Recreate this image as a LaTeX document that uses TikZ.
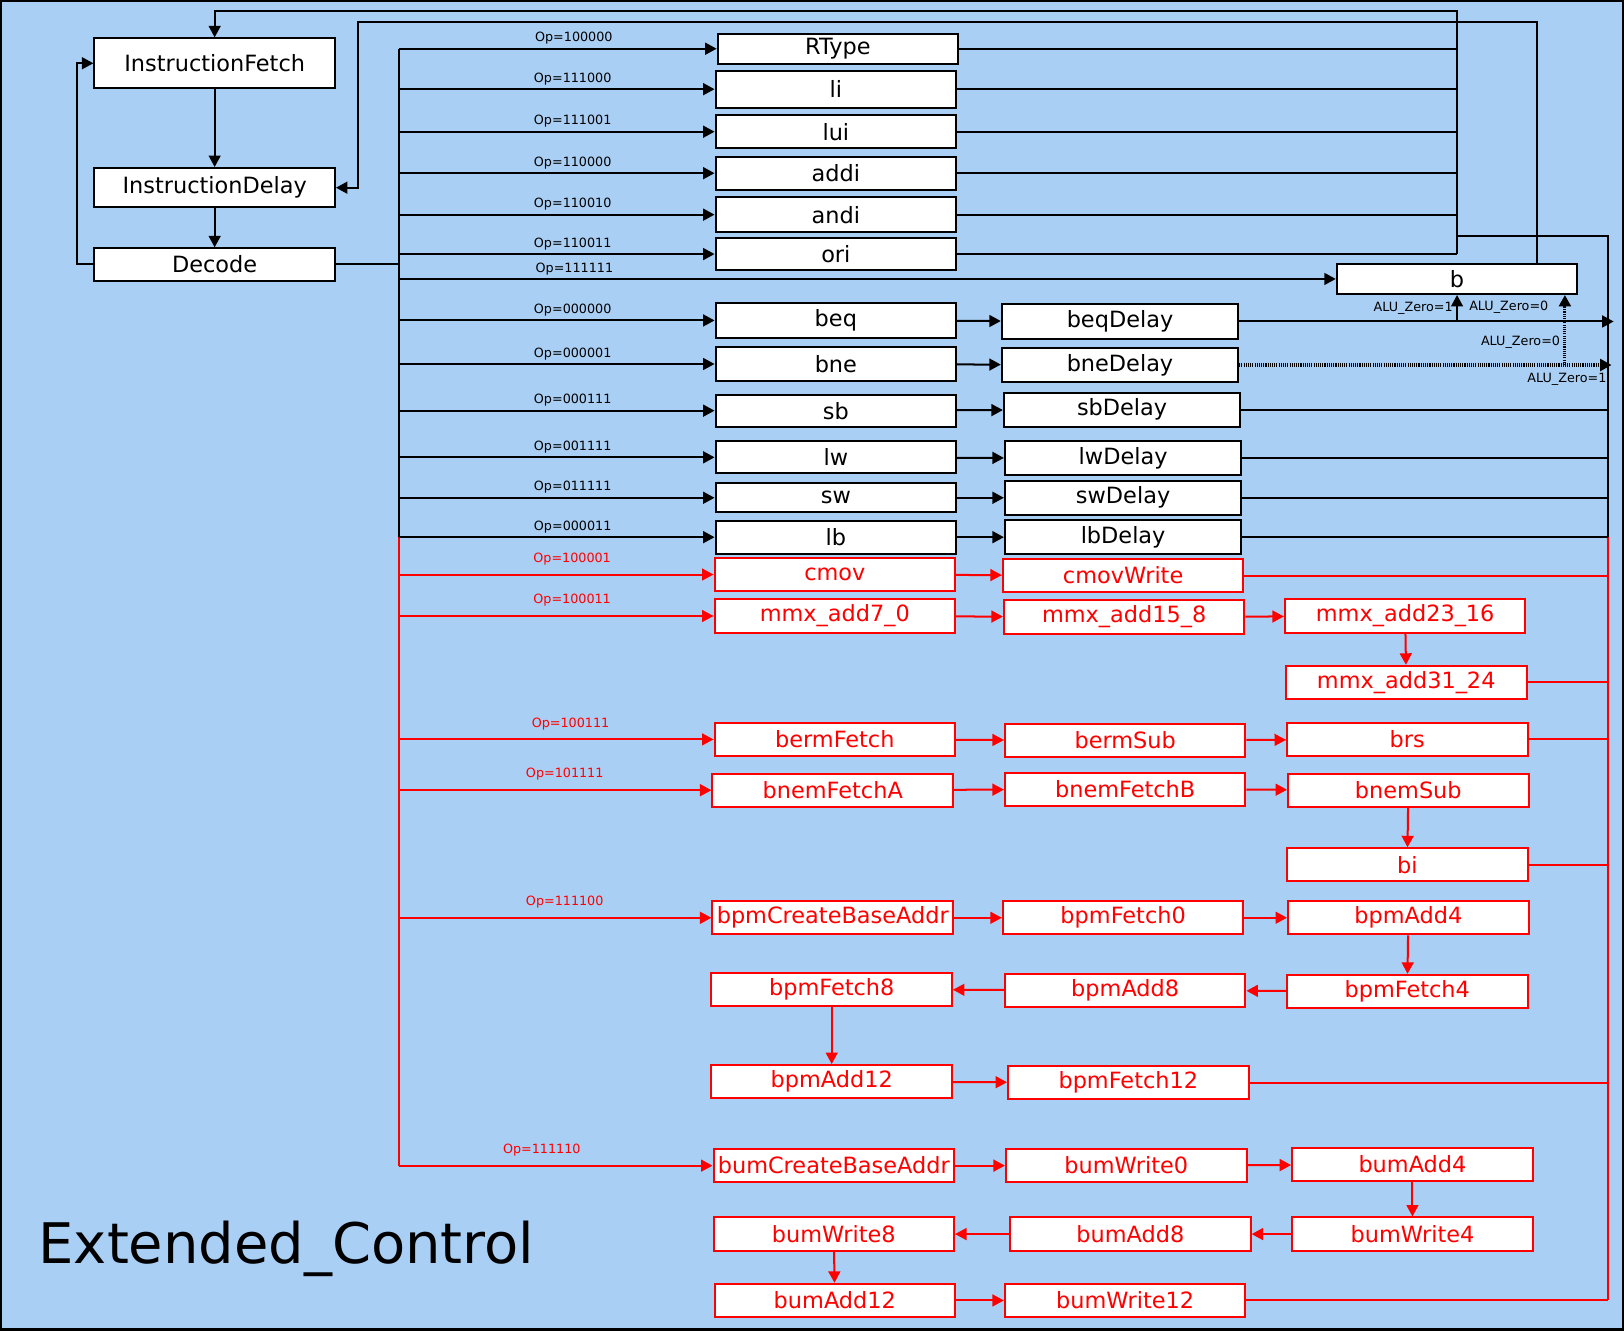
\documentclass[tikz,border=0pt]{standalone}
\usepackage{fontspec}
\setmainfont{DejaVu Sans}
\usetikzlibrary{arrows.meta, positioning, calc}
\definecolor{bgblue}{RGB}{170,207,244}

\begin{document}
\begin{tikzpicture}[x=0.02cm, y=-0.02cm,
  state/.style={draw, fill=white, line width=1.1pt, inner sep=0pt,
    minimum width=4.64cm, minimum height=0.64cm,
    font=\fontsize{12.3}{14}\selectfont},
  xstate/.style={state, draw=red, text=red},
  dstate/.style={state, minimum width=4.56cm, minimum height=0.66cm},
  op/.style={font=\fontsize{7}{8}\selectfont, inner sep=1.8pt},
  wire/.style={line width=1.1pt},
  arr/.style={wire, -{Triangle[length=6.3pt, width=6.5pt]}},
  dotwire/.style={line width=1.7pt, dash pattern=on 0.6pt off 0.6pt}]
  \useasboundingbox (0,0) rectangle (1566,1283);
  \fill[bgblue] (0,0) rectangle (1566,1283);
  \draw[line width=1.2pt] (1,1) rectangle (1565,1282);

  % fetch / decode
  \node[state, minimum height=0.96cm] (ifetch) at (207,61) {InstructionFetch};
  \node[state, minimum height=0.76cm] (idelay) at (207,181) {InstructionDelay};
  \node[state, minimum height=0.62cm] (decode) at (207,255) {Decode};

  % base instructions
  \node[state, minimum height=0.58cm] (rtype) at (808,47) {RType};
  \node[state, minimum height=0.72cm] (li) at (806,86) {li};
  \node[state] (lui) at (806,127) {lui};
  \node[state] (addi) at (806,167) {addi};
  \node[state, minimum height=0.68cm] (andi) at (806,207) {andi};
  \node[state, minimum height=0.62cm] (ori) at (806,245) {ori};
  \node[state, minimum height=0.58cm] (b) at (1405,269) {b};
  \node[state, minimum height=0.66cm] (beq) at (806,309) {beq};
  \node[dstate] (beqd) at (1080,310) {beqDelay};
  \node[state, minimum height=0.66cm] (bne) at (806,351) {bne};
  \node[dstate] (bned) at (1080,352) {bneDelay};
  \node[state, minimum height=0.62cm] (sb) at (806,396) {sb};
  \node[dstate] (sbd) at (1082,395) {sbDelay};
  \node[state, minimum height=0.62cm] (lw) at (806,441) {lw};
  \node[dstate] (lwd) at (1083,442) {lwDelay};
  \node[state, minimum height=0.56cm] (sw) at (806,480) {sw};
  \node[dstate] (swd) at (1083,480) {swDelay};
  \node[state] (lb) at (806,518) {lb};
  \node[dstate] (lbd) at (1083,518) {lbDelay};

  % extended instructions
  \node[xstate] (cmov) at (805,554) {cmov};
  \node[xstate] (cmovw) at (1083,555) {cmovWrite};
  \node[xstate] (mmx0) at (805,594) {mmx\_add7\_0};
  \node[xstate] (mmx8) at (1084,595) {mmx\_add15\_8};
  \node[xstate] (mmx16) at (1355,594) {mmx\_add23\_16};
  \node[xstate] (mmx24) at (1356,658) {mmx\_add31\_24};
  \node[xstate] (bermf) at (805,713) {bermFetch};
  \node[xstate] (berms) at (1085,714) {bermSub};
  \node[xstate] (brs) at (1357,713) {brs};
  \node[xstate] (bnemfa) at (803,762) {bnemFetchA};
  \node[xstate] (bnemfb) at (1085,761) {bnemFetchB};
  \node[xstate] (bnems) at (1358,762) {bnemSub};
  \node[xstate] (bi) at (1357,834) {bi};
  \node[xstate] (bpmcba) at (803,885) {bpmCreateBaseAddr};
  \node[xstate] (bpmf0) at (1083,885) {bpmFetch0};
  \node[xstate] (bpma4) at (1358,885) {bpmAdd4};
  \node[xstate] (bpmf8) at (802,954) {bpmFetch8};
  \node[xstate] (bpma8) at (1085,955) {bpmAdd8};
  \node[xstate] (bpmf4) at (1357,956) {bpmFetch4};
  \node[xstate] (bpma12) at (802,1043) {bpmAdd12};
  \node[xstate] (bpmf12) at (1088,1044) {bpmFetch12};
  \node[xstate] (bumcba) at (804,1124) {bumCreateBaseAddr};
  \node[xstate] (bumw0) at (1086,1124) {bumWrite0};
  \node[xstate] (buma4) at (1362,1123) {bumAdd4};
  \node[xstate] (bumw8) at (804,1190) {bumWrite8};
  \node[xstate] (buma8) at (1090,1190) {bumAdd8};
  \node[xstate] (bumw4) at (1362,1190) {bumWrite4};
  \node[xstate] (buma12) at (805,1254) {bumAdd12};
  \node[xstate] (bumw12) at (1085,1254) {bumWrite12};

  \node[anchor=base west, font=\fontsize{30.7}{34}\selectfont] (title)
    at (31,1218) {Extended\_Control};

  % bus coordinates
  \coordinate (bus) at (385,0);
  \coordinate (ret) at (1405,0);
  \coordinate (rbus) at (1551,0);
  \coordinate (rtop) at (1405,11);
  \coordinate (btop) at (1482,21);
  \coordinate (bleft) at (345,21);
  \coordinate (rtee) at (1405,228);
  \coordinate (bz) at (1509,0);

  % fetch loop
  \draw[arr] (ifetch) -- (idelay);
  \draw[arr] (idelay) -- (decode);
  \draw[arr] (decode.west) -- ++(-16,0) |- (ifetch.west);
  \draw[wire] (decode.east) -- (bus |- decode.east);
  \draw[wire] (bus |- rtype.west) -- (bus |- lb.west);
  \draw[wire, red] (bus |- lb.west) -- (bus |- bumcba.west);

  % opcode arrows
  \foreach \n/\op in {rtype/100000, li/111000, lui/111001, addi/110000,
    andi/110010, ori/110011, beq/000000, bne/000001, sb/000111,
    lw/001111, sw/011111, lb/000011}
    \draw[arr] (bus |- \n.west) -- (\n.west) node[op, pos=.55, above] {Op=\op};
  \draw[arr] (bus |- b.west) -- (b.west) node[op, pos=.187, above] {Op=111111};
  \foreach \n/\op/\p in {cmov/100001/.55, mmx0/100011/.55, bermf/100111/.545,
    bnemfa/101111/.53, bpmcba/111100/.53, bumcba/111110/.455}
    \draw[arr, red] (bus |- \n.west) -- (\n.west)
      node[op, pos=\p, above=3pt] {Op=\op};

  % return to fetch
  \foreach \n in {rtype, li, lui, addi, andi, ori}
    \draw[wire] (\n.east) -- (ret |- \n.east);
  \draw[arr] (ret |- ori.east) -- (rtop) -| (ifetch.north);
  \draw[arr] (b.north -| btop) -- (btop) -- (bleft) |- (idelay.east);
  \draw[wire] (rtee) -- (rtee -| rbus) -- (rbus |- lbd.east);
  \draw[wire, red] (rbus |- lbd.east) -- (rbus |- bumw12.east);

  % delay states
  \foreach \a/\d in {beq/beqd, bne/bned, sb/sbd, lw/lwd, sw/swd, lb/lbd}
    \draw[arr] (\a) -- (\d);
  \foreach \n in {sbd, lwd, swd, lbd}
    \draw[wire] (\n.east) -- (rbus |- \n.east);

  % branches
  \draw[arr] (beqd.east) -- ([xshift=0.1cm]rbus |- beqd.east)
    node[op, pos=.72, above=2pt] {ALU\_Zero=0};
  \draw[arr] (b.south |- beqd.east) -- (b.south)
    node[op, pos=.5, left=0pt] {ALU\_Zero=1};
  \draw[arr, dotwire] (bned.east) -- ([xshift=0.06cm]rbus |- bned.east)
    node[op, pos=.88, below=2pt] {ALU\_Zero=1};
  \draw[arr, dotwire] (bz |- bned.east) -- (bz |- b.south)
    node[op, pos=.33, left=0pt] {ALU\_Zero=0};

  % extended chains
  \foreach \a/\d in {cmov/cmovw, mmx0/mmx8, mmx8/mmx16, mmx16/mmx24,
    bermf/berms, berms/brs, bnemfa/bnemfb, bnemfb/bnems, bnems/bi,
    bpmcba/bpmf0, bpmf0/bpma4, bpma4/bpmf4, bpmf4/bpma8, bpma8/bpmf8,
    bpmf8/bpma12, bpma12/bpmf12, bumcba/bumw0, bumw0/buma4, buma4/bumw4,
    bumw4/buma8, buma8/bumw8, bumw8/buma12, buma12/bumw12}
    \draw[arr, red] (\a) -- (\d);
  \foreach \n in {cmovw, mmx24, brs, bi, bpmf12, bumw12}
    \draw[wire, red] (\n.east) -- (rbus |- \n.east);
\end{tikzpicture}
\end{document}
